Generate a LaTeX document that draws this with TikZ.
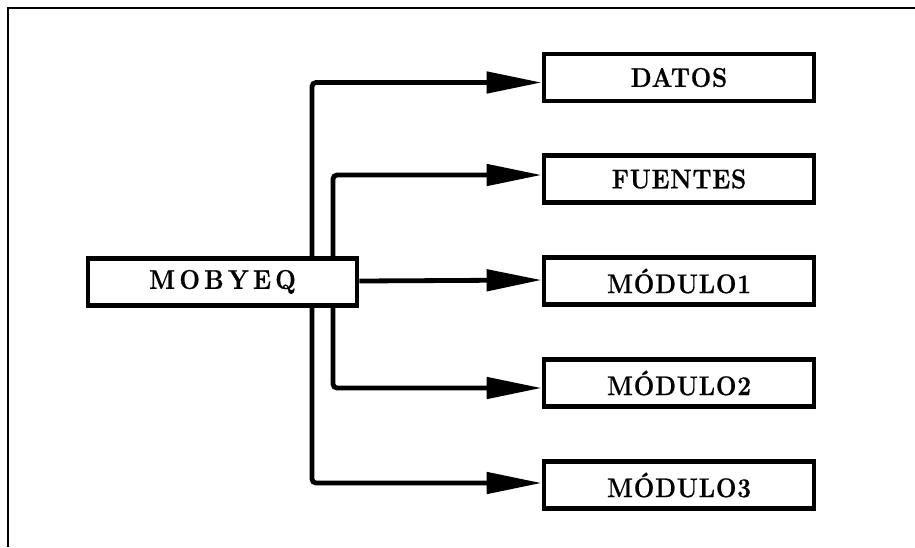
\documentclass[tikz,border=0pt]{standalone}
\usepackage{fontspec}
\setmainfont{Latin Modern Roman}
\usetikzlibrary{arrows.meta}
\begin{document}
\begin{tikzpicture}[x=1pt,y=-1pt,
  box/.style={draw=black, fill=white, line width=4.8pt, minimum width=270pt, minimum height=47pt, inner sep=0pt,
    font=\fontsize{27}{27}\selectfont\bfseries\addfontfeatures{LetterSpace=3,FakeBold=0.8,FakeStretch=0.9}},
  mainbox/.style={box, minimum width=269pt,
    font=\fontsize{27}{27}\selectfont\bfseries\addfontfeatures{LetterSpace=16,FakeBold=0.8,FakeStretch=0.9}},
  conn/.style={draw=black, line width=4.8pt, rounded corners=4pt, -{Triangle[length=55pt,width=21pt]}},
  frame/.style={draw=black, line width=2pt}]
\useasboundingbox (0,0) rectangle (915,547);
\coordinate (fr1) at (8,547);
\coordinate (fr2) at (8,8);
\coordinate (fr3) at (915,8);
\draw[frame] (fr1) -- (fr2) -- (fr3);
\coordinate (xo) at (312,0);
\coordinate (xi) at (333,0);
\node[box] (datos) at (679,77.5) {DATOS};
\node[box] (fuentes) at (679,179) {FUENTES};
\node[box] (mod1) at (679,281) {MÓDULO1};
\node[box] (mod2) at (679,383) {MÓDULO2};
\node[box] (mod3) at (679,485) {MÓDULO3};
\draw[conn] (xo |- 0,282) |- ([yshift=-5pt]datos.west);
\draw[conn] (xi |- 0,282) |- ([yshift=4pt]fuentes.west);
\draw[conn] (xi |- 0,282) |- ([yshift=-5pt]mod2.west);
\draw[conn] (xo |- 0,282) |- ([yshift=2pt]mod3.west);
\node[mainbox] (mob) at (222.5,282) {MOBYEQ};
\draw[conn] ([yshift=1pt]mob.east) -- ([yshift=1pt]mod1.west);
\end{tikzpicture}
\end{document}
